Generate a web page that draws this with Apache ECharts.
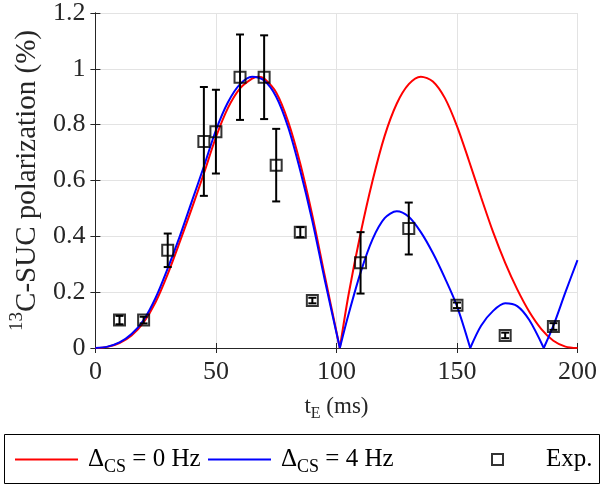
<!DOCTYPE html>
<html><head><meta charset="utf-8">
<script src="https://cdn.jsdelivr.net/npm/echarts@6/dist/echarts.min.js"></script>
<style>html,body{margin:0;padding:0;background:#fff}#c{width:600px;height:491px}</style>
</head><body><div id="c"></div>
<script>
// ---- data ----
const xTicks = [0, 50, 100, 150, 200];
const yTicks = [0, 0.2, 0.4, 0.6, 0.8, 1, 1.2];

// Delta_CS = 0 Hz (red)
const redT = [0,5,10,15,20,25,30,35,40,45,50,55,60,65,67.5,70,75,80,85,90,95,101.4,105,110,115,120,125,130,135,140,145,150,155,160,165,170,175,180,185,190,195,200];
const redV = [0,0.004,0.018,0.045,0.092,0.165,0.265,0.38,0.5,0.625,0.755,0.86,0.93,0.965,0.972,0.965,0.915,0.81,0.66,0.475,0.265,0,0.19,0.41,0.6,0.76,0.875,0.945,0.972,0.955,0.895,0.795,0.67,0.54,0.415,0.305,0.21,0.13,0.068,0.026,0.005,0];

// Delta_CS = 4 Hz (blue)
const blueT = [0,5,10,15,20,25,30,35,40,45,50,55,60,65,70,75,80,85,90,95,101.4,105,110,115,120,125,130,135,140,145,150,155.5,160,165,170,175,180,186,190,195,200];
const blueV = [0,0.005,0.02,0.05,0.1,0.18,0.285,0.4,0.525,0.65,0.78,0.88,0.945,0.972,0.958,0.9,0.79,0.635,0.455,0.25,0,0.12,0.27,0.39,0.465,0.49,0.47,0.415,0.34,0.25,0.15,0,0.08,0.133,0.16,0.15,0.1,0,0.08,0.2,0.315];

// Experimental points
const expT   = [10, 20, 30, 45, 50, 60, 70, 75, 85, 90, 110, 130, 150, 170, 190];
const expV   = [0.1, 0.1, 0.35, 0.74, 0.775, 0.97, 0.97, 0.655, 0.415, 0.17, 0.305, 0.428, 0.153, 0.045, 0.077];
const expErr = [0.015, 0.012, 0.06, 0.195, 0.15, 0.153, 0.15, 0.13, 0.018, 0.01, 0.11, 0.093, 0.01, 0.01, 0.012];

const nameRed = 'dcs0', nameBlue = 'dcs4', nameExp = 'Exp.';

// ---- build ----
const FONT = 'Liberation Serif';
const TXT = '#262626';
const FS = 26, FSS = 18;

function segments(T, V) {
  const segs = []; let cur = [];
  for (let i = 0; i < T.length; i++) {
    cur.push([T[i], V[i]]);
    if (V[i] === 0 && i > 0 && i < T.length - 1) { segs.push(cur); cur = [[T[i], V[i]]]; }
  }
  if (cur.length > 1) segs.push(cur);
  return segs;
}

const series = [];
segments(redT, redV).forEach(s => series.push({
  name: nameRed, type: 'line', data: s, smooth: 0.3, showSymbol: false, symbol: 'none',
  lineStyle: { color: '#ff0000', width: 2 }, itemStyle: { color: '#ff0000' }, z: 2, animation: false
}));
segments(blueT, blueV).forEach(s => series.push({
  name: nameBlue, type: 'line', data: s, smooth: 0.3, showSymbol: false, symbol: 'none',
  lineStyle: { color: '#0000ff', width: 2 }, itemStyle: { color: '#0000ff' }, z: 3, animation: false
}));
series.push({
  type: 'custom', z: 4, animation: false,
  data: expT.map((t, i) => [t, expV[i], expErr[i]]),
  encode: { x: 0, y: 1 },
  renderItem(params, api) {
    const x = api.value(0), y = api.value(1), e = api.value(2);
    const a = api.coord([x, y + e]), b = api.coord([x, y - e]);
    const hw = 4, st = { stroke: '#000', lineWidth: 2 };
    return { type: 'group', children: [
      { type: 'line', shape: { x1: a[0], y1: a[1], x2: b[0], y2: b[1] }, style: st },
      { type: 'line', shape: { x1: a[0] - hw, y1: a[1], x2: a[0] + hw, y2: a[1] }, style: st },
      { type: 'line', shape: { x1: b[0] - hw, y1: b[1], x2: b[0] + hw, y2: b[1] }, style: st }
    ]};
  }
});
series.push({
  name: nameExp, type: 'scatter', z: 5, animation: false,
  data: expT.map((t, i) => [t, expV[i]]),
  symbol: 'rect', symbolSize: 11,
  itemStyle: { color: 'rgba(0,0,0,0)', borderColor: '#000', borderWidth: 2 }
});

const axisBase = {
  axisLine: { show: true, lineStyle: { color: TXT, width: 1 } },
  axisTick: { show: true, inside: true, length: 5, lineStyle: { color: TXT } }
};

const LFS = 25;
const legRich = {
  d: { fontFamily: FONT, fontSize: LFS, color: '#000', padding: [0, 0, 0, 5], lineHeight: 32 },
  s: { fontFamily: FONT, fontSize: FSS, color: '#000', padding: [15, 0, 0, 0] },
  n: { fontFamily: FONT, fontSize: LFS, color: '#000', lineHeight: 32 },
  e: { fontFamily: FONT, fontSize: LFS, color: '#000', padding: [0, 0, 0, 38], lineHeight: 32 }
};
function legFmt(name) {
  if (name === nameRed) return '{d|\u0394}{s|CS}{n| = 0 Hz}';
  if (name === nameBlue) return '{d|\u0394}{s|CS}{n| = 4 Hz}';
  return '{e|Exp.}';
}
const legCommon = { top: 447, padding: 0, itemGap: 10, formatter: legFmt, symbolKeepAspect: false,
  textStyle: { rich: legRich, fontFamily: FONT, fontSize: LFS, color: '#000' } };

const option = {
  animation: false,
  backgroundColor: '#fff',
  grid: { left: 93, right: 20, top: 9, bottom: 143, containLabel: false },
  xAxis: [
    Object.assign({}, axisBase, {
      type: 'value', min: 0, max: 200, interval: 50, position: 'bottom',
      axisLabel: { fontFamily: FONT, fontSize: FS, color: TXT, margin: 11,
        formatter: v => xTicks.includes(v) ? String(v) : '' },
      splitLine: { show: true, lineStyle: { color: '#e3e3e3', width: 1 } },
      name: '{t|t}{s|E}{n| (ms)}', nameLocation: 'middle', nameGap: 43,
      nameTextStyle: { rich: {
        t: { fontFamily: FONT, fontSize: 23, color: TXT },
        s: { fontFamily: FONT, fontSize: 16, color: TXT, padding: [15, 0, 0, 0] },
        n: { fontFamily: FONT, fontSize: 23, color: TXT } } }
    }),
    Object.assign({}, axisBase, {
      type: 'value', min: 0, max: 200, interval: 50, position: 'top',
      axisLabel: { show: false }, splitLine: { show: false }
    })
  ],
  yAxis: [
    Object.assign({}, axisBase, {
      type: 'value', min: 0, max: 1.2, interval: 0.2, position: 'left',
      axisLabel: { fontFamily: FONT, fontSize: FS, color: TXT, margin: 10,
        formatter: v => String(+v.toFixed(1)) },
      splitLine: { show: true, lineStyle: { color: '#e3e3e3', width: 1 } },
      name: '{p|13}{n|C-SUC polarization (%)}', nameLocation: 'middle', nameGap: 48, nameRotate: 90,
      nameTextStyle: { rich: {
        p: { fontFamily: FONT, fontSize: 19, color: TXT, padding: [0, 0, 20, 0] },
        n: { fontFamily: FONT, fontSize: 29, color: TXT } } }
    }),
    Object.assign({}, axisBase, {
      type: 'value', min: 0, max: 1.2, interval: 0.2, position: 'right',
      axisLabel: { show: false }, splitLine: { show: false }
    })
  ],
  legend: [
    Object.assign({}, legCommon, { left: 15, itemWidth: 63, itemHeight: 2,
      data: [{ name: nameRed, icon: 'rect' }] }),
    Object.assign({}, legCommon, { left: 208, itemWidth: 63, itemHeight: 2,
      data: [{ name: nameBlue, icon: 'rect' }] }),
    Object.assign({}, legCommon, { left: 491, itemWidth: 11, itemHeight: 11,
      data: [{ name: nameExp, icon: 'rect',
        itemStyle: { color: 'rgba(0,0,0,0)', borderColor: '#000', borderWidth: 2 } }] })
  ],
  graphic: [
    { type: 'rect', left: 2, top: 432, shape: { width: 595, height: 49 },
      style: { fill: 'none', stroke: '#000', lineWidth: 1 }, silent: true }
  ],
  series: series
};
const chart = echarts.init(document.getElementById('c'), null, { renderer: 'canvas' });
chart.setOption(option);
</script></body></html>
